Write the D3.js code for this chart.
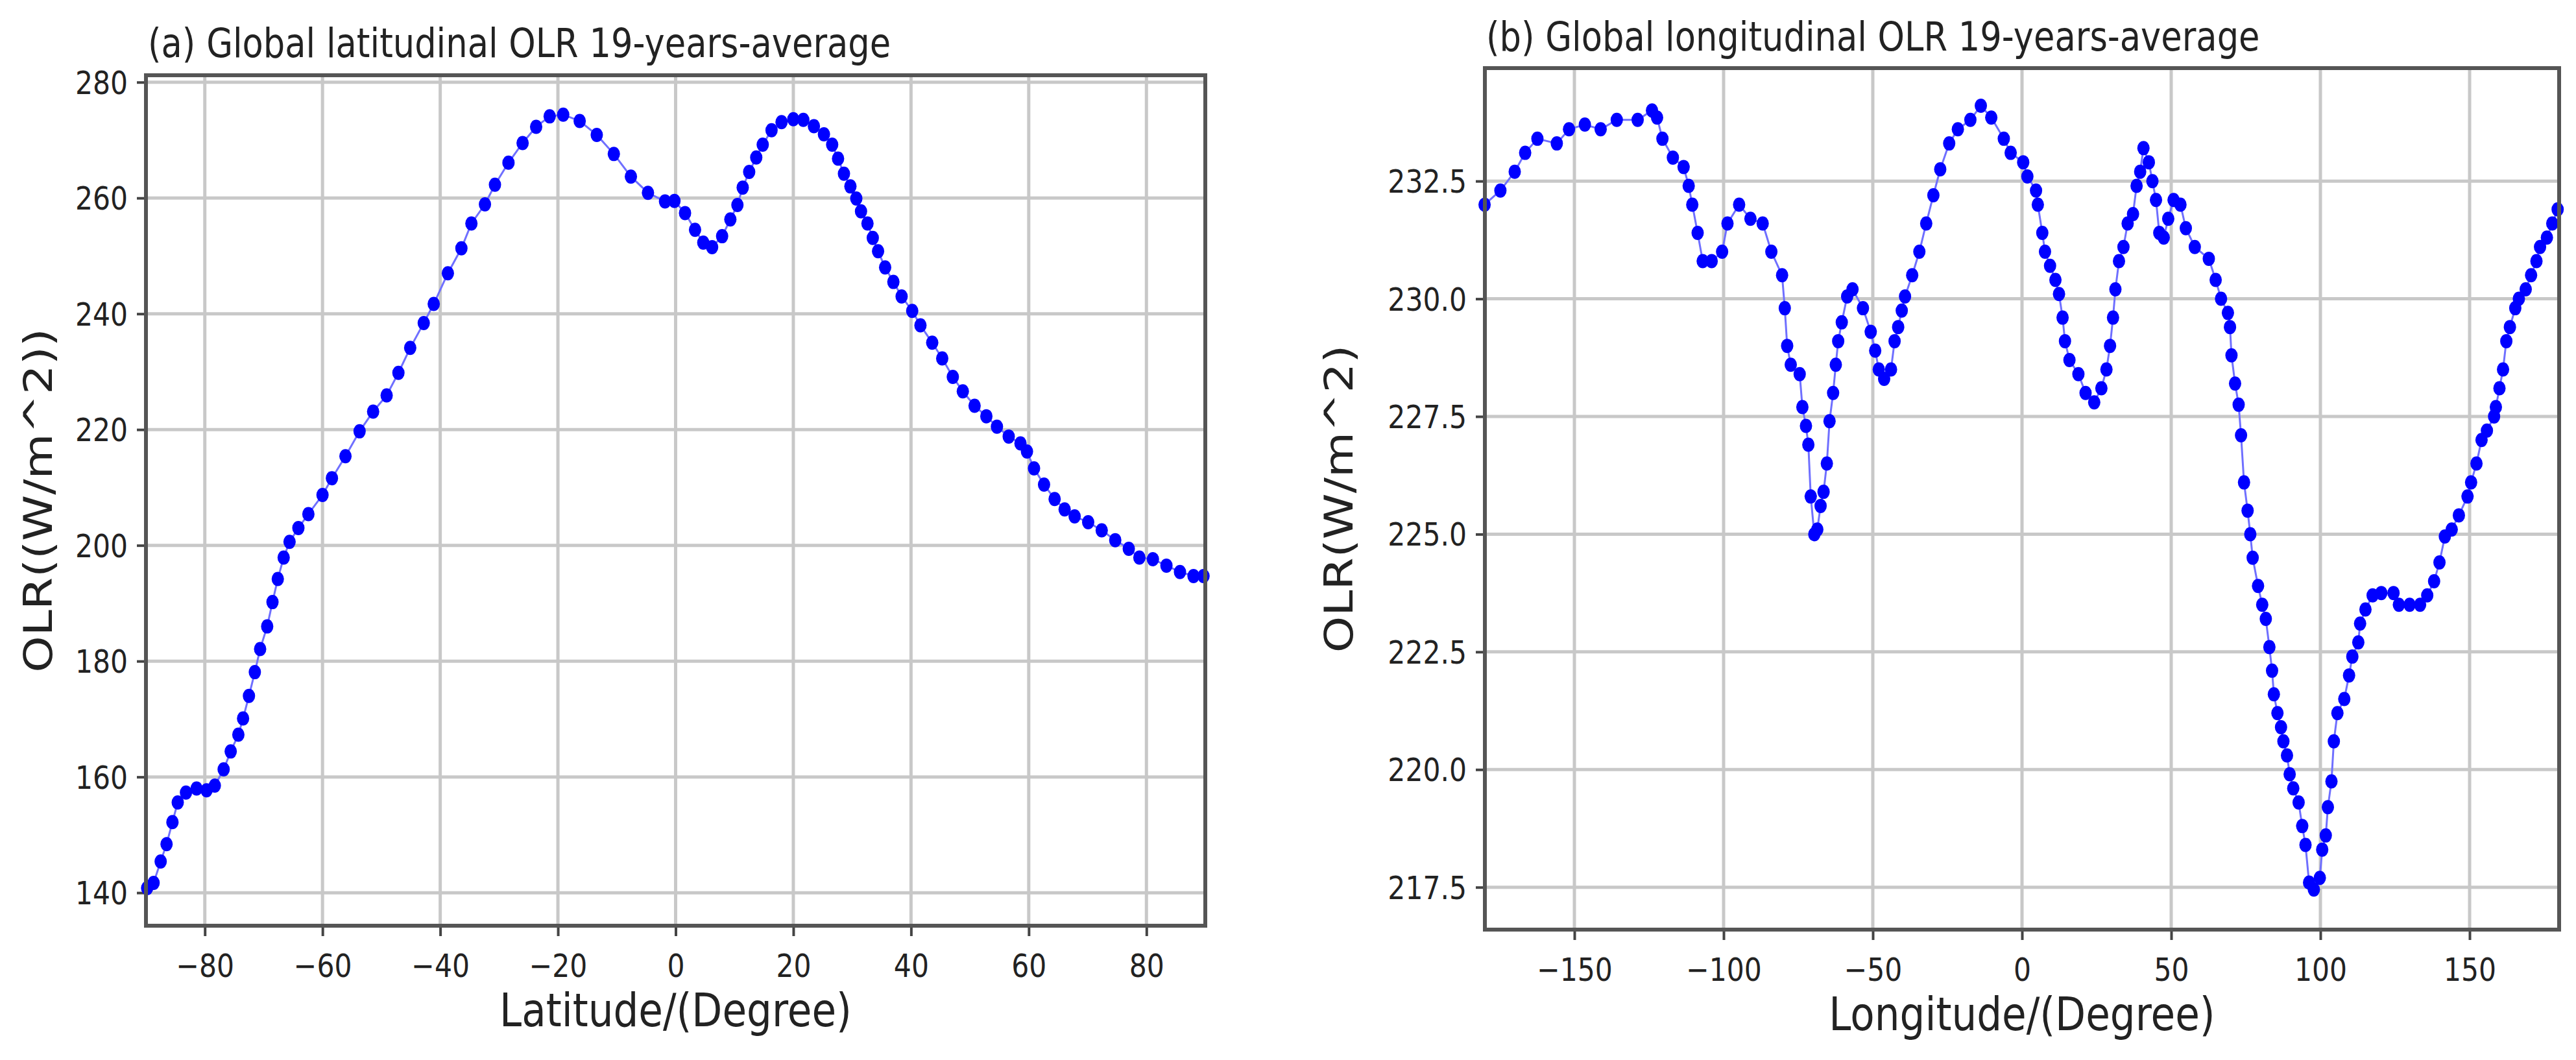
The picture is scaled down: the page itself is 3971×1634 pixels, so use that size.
<!DOCTYPE html>
<html>
<head>
<meta charset="utf-8">
<script src="https://cdn.jsdelivr.net/npm/d3@7/dist/d3.min.js"></script>
<style>
  body { margin: 0; background: #fff; }
  text { font-family: "DejaVu Sans", sans-serif; fill: #222; }
</style>
</head>
<body>
<svg id="chart" width="3971" height="1634"></svg>
<script>
// (a) latitudinal OLR
const latA = [-89.8,-88.7,-87.5,-86.5,-85.5,-84.6,-83.2,-81.4,-79.7,-78.3,-76.8,-75.6,-74.3,-73.5,-72.5,-71.5,-70.6,-69.4,-68.5,-67.6,-66.6,-65.6,-64.1,-62.4,-60,-58.4,-56.1,-53.7,-51.4,-49.1,-47.1,-45.1,-42.8,-41.1,-38.7,-36.4,-34.7,-32.4,-30.7,-28.4,-26,-23.7,-21.4,-19.1,-16.3,-13.4,-10.5,-7.6,-4.7,-1.8,
  -0.2,1.6,3.3,4.7,6.2,7.9,9.3,10.5,11.4,12.5,13.7,14.8,16.3,18,20,21.7,23.5,25.2,26.6,27.6,28.6,29.7,30.7,31.5,32.6,33.5,34.4,35.6,37,38.4,40.2,41.6,43.6,45.3,47.1,48.8,50.8,52.8,54.6,56.6,58.6,59.7,60.9,62.6,64.4,66.1,67.8,70.1,72.4,74.7,77,78.8,81.1,83.4,85.7,88,89.7]
const olrA = [140.8,141.7,145.4,148.4,152.2,155.6,157.3,158,157.7,158.5,161.3,164.4,167.3,170.1,174,178.1,182.1,186,190.2,194.2,197.9,200.6,203,205.4,208.7,211.6,215.4,219.7,223.1,225.9,229.8,234.1,238.4,241.7,247,251.3,255.6,258.9,262.3,266.1,269.5,272.3,274.1,274.4,273.3,270.9,267.6,263.7,260.9,259.4,
  259.5,257.4,254.5,252.3,251.5,253.4,256.3,258.8,261.8,264.5,267,269.2,271.7,273.1,273.6,273.5,272.4,271,269.2,266.8,264.2,262,259.9,257.7,255.6,253.1,250.8,248,245.5,243,240.5,238,235,232.3,229.1,226.6,224.1,222.3,220.5,218.8,217.6,216.2,213.3,210.5,208,206.2,205,204,202.6,200.9,199.4,197.9,197.6,196.5,195.4,194.7,194.7]
const latTicks = [-80, -60, -40, -20, 0, 20, 40, 60, 80]
const olrTicksA = [140, 160, 180, 200, 220, 240, 260, 280]

// (b) longitudinal OLR
const lonB = [-180.1,-174.8,-170,-166.5,-162.4,-155.9,-151.8,-146.5,-141.2,-135.8,-128.8,-124,-122.3,-120.5,-117,-113.4,-111.7,-110.5,-108.7,-107,-104,-100.5,-98.7,-94.8,-91,-86.9,-84,-80.4,-79.5,-78.7,-77.5,-74.5,-73.6,-72.4,-71.6,-70.8,-69.6,-68.6,-67.5,-66.5,-65.4,-64.5,-63.3,-62.4,-61.6,-60.4,-58.6,-56.8,-53.3,-50.7,-49.2,-48,-46.2,-43.9,-42.7,-41.5,-40.3,-39.2,-36.8,-34.4,-32.1,-29.7,-27.4,-24.4,-21.5,-17.3,-13.8,-10.3,-6.1,-3.8,
  0.4,1.8,4.7,5.3,6.8,7.7,9.4,11.2,12.4,13.6,14.4,15.9,18.9,21.3,24.2,26.6,28.3,29.5,30.5,31.3,32.5,34,35.4,37.2,38.4,39.6,40.7,42.5,43.7,44.9,46,47.5,49,50.8,53.1,54.9,57.9,62.6,64.9,66.7,69,69.7,70.2,71.4,72.6,73.4,74.4,75.6,76.5,77.3,79.1,80.5,81.7,82.9,83.8,84.4,85.6,86.8,87.6,88.8,89.7,90.9,92.7,93.9,95,96.2,97.8,99.8,100.6,101.8,102.5,103.7,104.5,105.7,108,109.6,110.7,112.7,113.3,115.1,117.5,120.4,124.5,126.3,129.9,133.4,135.8,138.1,139.9,141.7,144,146.4,149.3,150.5,152.3,154,155.8,158.2,158.8,160,161.2,162.3,163.5,165.3,166.5,168.8,170.6,172.4,173.6,175.9,177.7,179.5]
const olrB = [232.0,232.3,232.7,233.1,233.4,233.3,233.6,233.7,233.6,233.8,233.8,234.0,233.85,233.4,233.0,232.8,232.4,232.0,231.4,230.8,230.8,231.0,231.6,232.0,231.7,231.6,231.0,230.5,229.8,229.0,228.6,228.4,227.7,227.3,226.9,225.8,225.0,225.1,225.6,225.9,226.5,227.4,228.0,228.6,229.1,229.5,230.05,230.2,229.8,229.3,228.9,228.5,228.3,228.5,229.1,229.4,229.75,230.05,230.5,231.0,231.6,232.2,232.75,233.3,233.6,233.8,234.1,233.85,233.4,233.1,
  232.9,232.6,232.3,232.0,231.4,231.0,230.7,230.4,230.1,229.6,229.1,228.7,228.4,228.0,227.8,228.1,228.5,229.0,229.6,230.2,230.8,231.1,231.6,231.8,232.4,232.7,233.2,232.9,232.5,232.1,231.4,231.3,231.7,232.1,232.0,231.5,231.1,230.85,230.4,230.0,229.7,229.4,228.8,228.2,227.75,227.1,226.1,225.5,225.0,224.5,223.9,223.5,223.2,222.6,222.1,221.6,221.2,220.9,220.6,220.3,219.9,219.6,219.3,218.8,218.4,217.6,217.45,217.7,218.3,218.6,219.2,219.75,220.6,221.2,221.5,222.0,222.4,222.7,223.1,223.4,223.7,223.75,223.75,223.5,223.5,223.5,223.7,224.0,224.4,224.95,225.1,225.4,225.8,226.1,226.5,227.0,227.2,227.5,227.7,228.1,228.5,229.1,229.4,229.8,230.0,230.2,230.5,230.8,231.1,231.3,231.6,231.9]
const lonTicks = [-150, -100, -50, 0, 50, 100, 150]
const olrTicksB = [217.5, 220, 222.5, 225, 227.5, 230, 232.5]

const svg = d3.select('#chart')
const squeeze = 0.85

function addText(g, x, y, str, size, anchor, rotate) {
    let tf = `translate(${x},${y})` + (rotate ? ' rotate(-90)' : '') + (rotate ? ` scale(1,${squeeze})` : ` scale(${squeeze},1)`)
    g.append('text').attr('transform', tf).attr('text-anchor', anchor)
        .style('font-size', size + 'px').text(str)
}

function makePanel(opt) {
    const g = svg.append('g')
    const x = d3.scaleLinear().domain(opt.xDomain).range([opt.left, opt.right])
    const y = d3.scaleLinear().domain(opt.yDomain).range([opt.bottom, opt.top])

    // grid
    g.selectAll('.vg').data(opt.xTicks).enter().append('line')
        .attr('x1', d => x(d)).attr('x2', d => x(d)).attr('y1', opt.top).attr('y2', opt.bottom)
        .attr('stroke', '#c8c8c8').attr('stroke-width', 5)
    g.selectAll('.hg').data(opt.yTicks).enter().append('line')
        .attr('y1', d => y(d)).attr('y2', d => y(d)).attr('x1', opt.left).attr('x2', opt.right)
        .attr('stroke', '#c8c8c8').attr('stroke-width', 5)

    // axes
    const xAxis = d3.axisBottom(x).tickValues(opt.xTicks).tickSize(16).tickPadding(18).tickFormat(d3.format('d'))
    const yAxis = d3.axisLeft(y).tickValues(opt.yTicks).tickSize(14).tickPadding(14).tickFormat(d3.format(opt.yFormat))
    const gx = g.append('g').attr('transform', `translate(0,${opt.bottom})`).call(xAxis)
    const gy = g.append('g').attr('transform', `translate(${opt.left},0)`).call(yAxis)
    for (let a of [gx, gy]) {
        a.select('.domain').remove()
        a.selectAll('line').attr('stroke', '#444').attr('stroke-width', 4)
        a.selectAll('text').style('font-size', '50px').style('font-family', '"DejaVu Sans", sans-serif').attr('fill', '#222')
    }
    gx.selectAll('text').attr('transform', `scale(${squeeze},1)`).attr('x', 0).attr('dy', '0.9em')
    gy.selectAll('text').attr('dy', '0.35em')
        .attr('transform', `translate(-28,0) scale(${squeeze},1) translate(28,0)`)

    // line + dots
    const pts = opt.xs.map((v, i) => [v, opt.ys[i]])
    g.append('path').datum(pts)
        .attr('d', d3.line().x(d => x(d[0])).y(d => y(d[1])))
        .attr('fill', 'none').attr('stroke', '#6f6fff').attr('stroke-width', 3)
    g.selectAll('.dot').data(pts).enter().append('ellipse')
        .attr('cx', d => x(d[0])).attr('cy', d => y(d[1]))
        .attr('rx', 9.5).attr('ry', 11).attr('fill', '#0000ff')

    // frame
    g.append('rect').attr('x', opt.left).attr('y', opt.top)
        .attr('width', opt.right - opt.left).attr('height', opt.bottom - opt.top)
        .attr('fill', 'none').attr('stroke', '#555').attr('stroke-width', 6)

    addText(g, opt.titleX, opt.titleY, opt.title, 62, 'start')
    addText(g, (opt.left + opt.right) / 2, opt.bottom + 155, opt.xLabel, 72, 'middle')
    addText(g, opt.yLabelX, (opt.top + opt.bottom) / 2, opt.yLabel, 72, 'middle', true)
}

makePanel({
    xs: latA, ys: olrA, xDomain: [-90, 90], yDomain: [134.3, 281.2],
    xTicks: latTicks, yTicks: olrTicksA, yFormat: 'd',
    left: 225, right: 1858, top: 116, bottom: 1427,
    title: '(a) Global latitudinal OLR 19-years-average', titleX: 228, titleY: 88,
    xLabel: 'Latitude/(Degree)', yLabel: 'OLR((W/m^2))', yLabelX: 80
})

makePanel({
    xs: lonB, ys: olrB, xDomain: [-180, 180], yDomain: [216.6, 234.9],
    xTicks: lonTicks, yTicks: olrTicksB, yFormat: '.1f',
    left: 2289, right: 3945, top: 105, bottom: 1433,
    title: '(b) Global longitudinal OLR 19-years-average', titleX: 2291, titleY: 78,
    xLabel: 'Longitude/(Degree)', yLabel: 'OLR(W/m^2)', yLabelX: 2085
})
</script>
</body>
</html>
